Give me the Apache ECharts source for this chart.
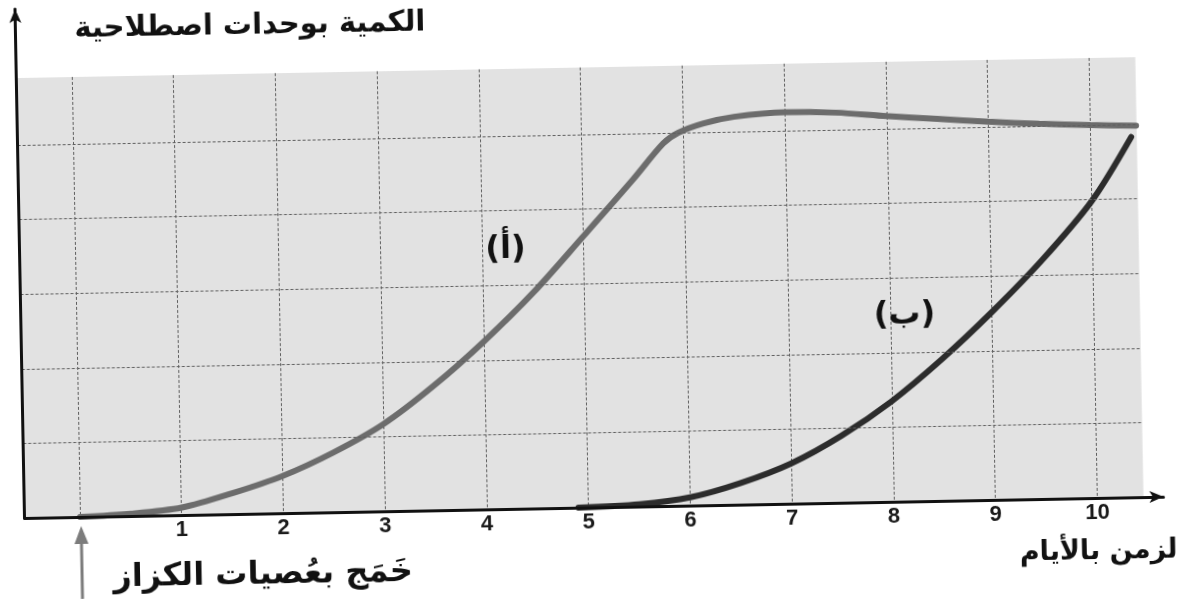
<!DOCTYPE html>
<html>
<head>
<meta charset="utf-8">
<script src="https://cdn.jsdelivr.net/npm/echarts@6.0.0/dist/echarts.min.js"></script>
<style>
  html, body { margin: 0; padding: 0; background: #fff; overflow: hidden; }
  /* the scanned figure sits about one degree off square */
  #chart {
    position: absolute; left: 0; top: 0;
    width: 1177px; height: 600px;
    transform: rotate(-1.07deg);
    transform-origin: 24.6px 518px;
  }
</style>
</head>
<body>
<div id="chart"></div>
<script>
// x axis: days, y axis: arbitrary units
var dayTicks = [0, 1, 2, 3, 4, 5, 6, 7, 8, 9, 10]
var levels = [1, 2, 3, 4, 5]

// curve (أ) - primary response
var daysA = [0, 0.5, 1, 1.5, 2, 2.5, 3, 3.5, 4, 4.5, 5, 5.5, 5.8, 5.95, 6.2, 6.5, 7, 7.5, 8, 8.5, 9, 9.5, 10, 10.45]
var valuesA = [0, 0.03, 0.1, 0.28, 0.5, 0.8, 1.17, 1.67, 2.25, 2.9, 3.64, 4.39, 4.86, 5.0, 5.12, 5.2, 5.25, 5.23, 5.17, 5.12, 5.07, 5.03, 5.0, 4.98]

// curve (ب)
var daysB = [4.9, 5.5, 6, 6.5, 7, 7.5, 8, 8.5, 9, 9.5, 10, 10.4]
var valuesB = [0, 0.03, 0.11, 0.29, 0.54, 0.9, 1.35, 1.9, 2.52, 3.2, 3.98, 4.83]

var labelA = '(أ)'
var labelB = '(ب)'

function zip(xs, ys) {
  return xs.map(function (x, i) { return [x, ys[i]] })
}

var chart = echarts.init(document.getElementById('chart'))

var gridTop = 77.9
var gridHeight = 440.1
var arabicFont = 'DejaVu Sans'

chart.setOption({
  animation: false,
  grid: [
    // data area (grey paper)
    { left: 24.6, top: gridTop, width: 1119.1, height: gridHeight, show: true, backgroundColor: '#e2e2e2', borderWidth: 0, z: 0 },
    // day ticks 0..10
    { left: 80, top: gridTop, width: 1017.4, height: gridHeight, z: 1 },
    // axis lines with arrows
    { left: 24.6, top: 9, width: 1139, height: 509, z: 5 }
  ],
  xAxis: [
    { gridIndex: 0, type: 'value', min: -0.545, max: 10.455, show: false },
    {
      gridIndex: 1, type: 'value', min: 0, max: 10, interval: 1, z: 1,
      axisLine: { show: false },
      axisTick: { show: false },
      splitLine: { show: true, lineStyle: { color: '#5e5e5e', width: 1, type: [3, 2] } },
      axisLabel: {
        margin: 4,
        color: '#1a1a1a',
        fontFamily: 'Liberation Sans',
        fontWeight: 'bold',
        fontSize: 22,
        formatter: function (v) { return v === 0 ? '' : String(v) }
      }
    },
    {
      gridIndex: 2, type: 'value', min: 0, max: 1, z: 5,
      axisLine: { show: true, symbol: ['none', 'arrow'], symbolSize: [9, 14], lineStyle: { color: '#111', width: 3 } },
      axisTick: { show: false }, axisLabel: { show: false }, splitLine: { show: false }
    }
  ],
  yAxis: [
    { gridIndex: 0, type: 'value', min: 0, max: 5.9, show: false },
    { gridIndex: 1, type: 'value', min: 0, max: 5.9, show: false },
    {
      gridIndex: 2, type: 'value', min: 0, max: 1, z: 5,
      axisLine: { show: true, symbol: ['none', 'arrow'], symbolSize: [9, 14], lineStyle: { color: '#111', width: 3 } },
      axisTick: { show: false }, axisLabel: { show: false }, splitLine: { show: false }
    }
  ],
  series: [
    {
      // horizontal ruling of the grid paper
      type: 'line', xAxisIndex: 0, yAxisIndex: 0, data: [], z: 1, silent: true,
      markLine: {
        silent: true,
        symbol: 'none',
        label: { show: false },
        lineStyle: { color: '#5e5e5e', width: 1, type: [3, 2] },
        data: levels.map(function (v) { return { yAxis: v } })
      }
    },
    {
      name: 'أ', type: 'line', xAxisIndex: 0, yAxisIndex: 0, z: 3,
      data: zip(daysA, valuesA),
      smooth: 0.3, showSymbol: false,
      lineStyle: { color: '#6c6c6c', width: 6, cap: 'round' },
      markPoint: {
        symbolSize: 0,
        label: { show: true, formatter: labelA, color: '#111', fontFamily: arabicFont, fontWeight: 'bold', fontSize: 32 },
        data: [{ coord: [4.23, 3.47] }]
      }
    },
    {
      name: 'ب', type: 'line', xAxisIndex: 0, yAxisIndex: 0, z: 3,
      data: zip(daysB, valuesB),
      smooth: 0.3, showSymbol: false,
      lineStyle: { color: '#2c2c2c', width: 6, cap: 'round' },
      markPoint: {
        symbolSize: 0,
        label: { show: true, formatter: labelB, color: '#111', fontFamily: arabicFont, fontWeight: 'bold', fontSize: 32 },
        data: [{ coord: [8.14, 2.5] }]
      }
    }
  ],
  graphic: [
    {
      type: 'text', x: 259, y: 30,
      style: { text: 'الكمية بوحدات اصطلاحية', font: 'bold 29px "DejaVu Sans"', fill: '#111', textAlign: 'center', textVerticalAlign: 'middle' }
    },
    {
      type: 'text', x: 1186, y: 572,
      style: { text: 'الزمن بالأيام', font: 'bold 27px "DejaVu Sans"', fill: '#111', textAlign: 'right', textVerticalAlign: 'middle' }
    },
    {
      type: 'text', x: 262, y: 580,
      style: { text: 'خَمَج بعُصيات الكزاز', font: 'bold 32px "DejaVu Sans"', fill: '#111', textAlign: 'center', textVerticalAlign: 'middle' }
    },
    {
      type: 'line', shape: { x1: 81, y1: 600, x2: 81, y2: 540 },
      style: { stroke: '#7c7c7c', lineWidth: 3 }
    },
    {
      type: 'polygon', shape: { points: [[81, 527], [74, 545], [88, 545]] },
      style: { fill: '#7c7c7c' }
    }
  ]
})
</script>
</body>
</html>
